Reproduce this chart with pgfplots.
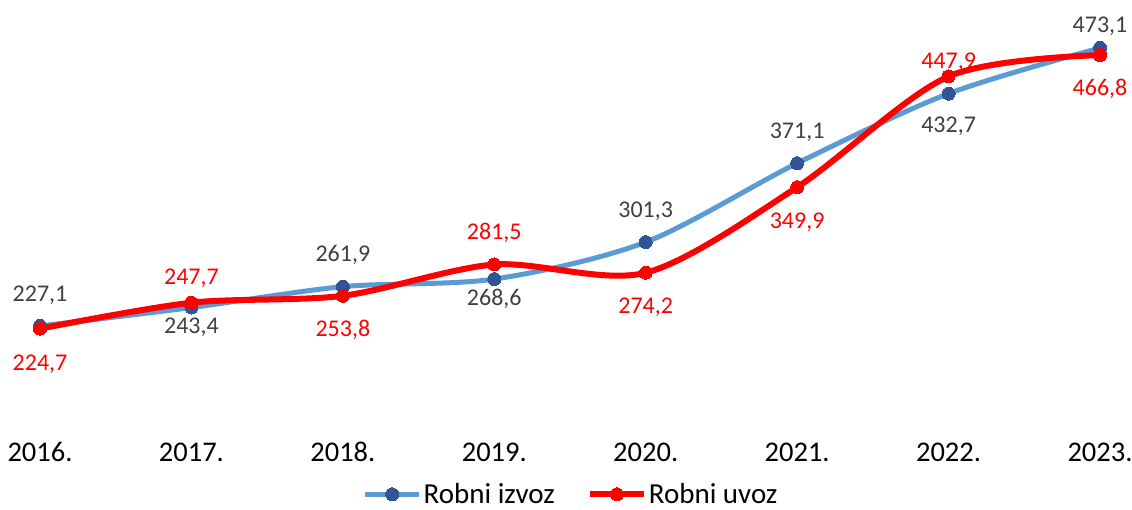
\documentclass[border=0pt]{standalone}
\usepackage{pgfplots}
\pgfplotsset{compat=1.18}
\usepackage{pgfplotstable}
\usepackage{fontspec}
\setmainfont{Carlito}
\definecolor{izline}{HTML}{5B9BD5}
\definecolor{izmark}{HTML}{2F5597}
\definecolor{labgray}{HTML}{404040}
\definecolor{uvred}{HTML}{FF0000}
\pgfplotstableread{
x y lab off
0 227.1 227,1 31
1 243.4 243,4 -20
2 261.9 261,9 32
3 268.6 268,6 -20
4 301.3 301,3 31
5 371.1 371,1 31
6 432.7 432,7 -33
7 473.1 473,1 22
}\izvoz
\pgfplotstableread{
x y lab off
0 224.7 224,7 -36
1 247.7 247,7 24
2 253.8 253,8 -34
3 281.5 281,5 32
4 274.2 274,2 -34
5 349.9 349,9 -35
6 447.9 447,9 14
7 466.8 466,8 -34
}\uvoz
\begin{document}
\begin{tikzpicture}
\useasboundingbox (-40pt,-89pt) rectangle (1092pt,420pt);
\begin{axis}[
  at={(0pt,0pt)}, anchor=south west,
  scale only axis, width=1060pt, height=410pt,
  xmin=0, xmax=7, ymin=143.9, ymax=506.7,
  clip=false,
  hide y axis,
  axis x line*=bottom,
  x axis line style={draw=none},
  xtick={0,...,7},
  xticklabels={2016.,2017.,2018.,2019.,2020.,2021.,2022.,2023.},
  major tick length=0pt,
  xticklabel style={anchor=center, yshift=-32pt, font=\fontsize{28.5}{32}\selectfont, text=black},
  legend style={draw=none, at={(0.501,-0.181)}, anchor=center, legend columns=2,
    font=\fontsize{29}{32}\selectfont, text=black, inner sep=1pt,
    /tikz/every even column/.append style={column sep=30pt}},
  legend image code/.code={\draw[#1, mark repeat=2, mark phase=2] plot coordinates {(0pt,0pt) (27pt,0pt) (54pt,0pt)};},
  nodes near coords,
  point meta=explicit symbolic,
  visualization depends on={\thisrow{off} \as \off},
]
\addplot[smooth, color=izline, line width=5pt, mark=*, mark size=6.5pt,
  mark options={fill=izmark, draw=izmark, line width=0pt},
  every node near coord/.append style={anchor=center, yshift=\off, text=labgray, font=\fontsize{24}{28}\selectfont}]
  table[x=x, y=y, meta=lab] {\izvoz};
\addlegendentry{Robni izvoz}
\addplot[smooth, color=uvred, line width=6pt, mark=*, mark size=6.5pt,
  mark options={fill=uvred, draw=uvred, line width=0pt},
  every node near coord/.append style={anchor=center, yshift=\off, text=uvred, font=\fontsize{24}{28}\selectfont}]
  table[x=x, y=y, meta=lab] {\uvoz};
\addlegendentry{Robni uvoz}
\end{axis}
\end{tikzpicture}
\end{document}
